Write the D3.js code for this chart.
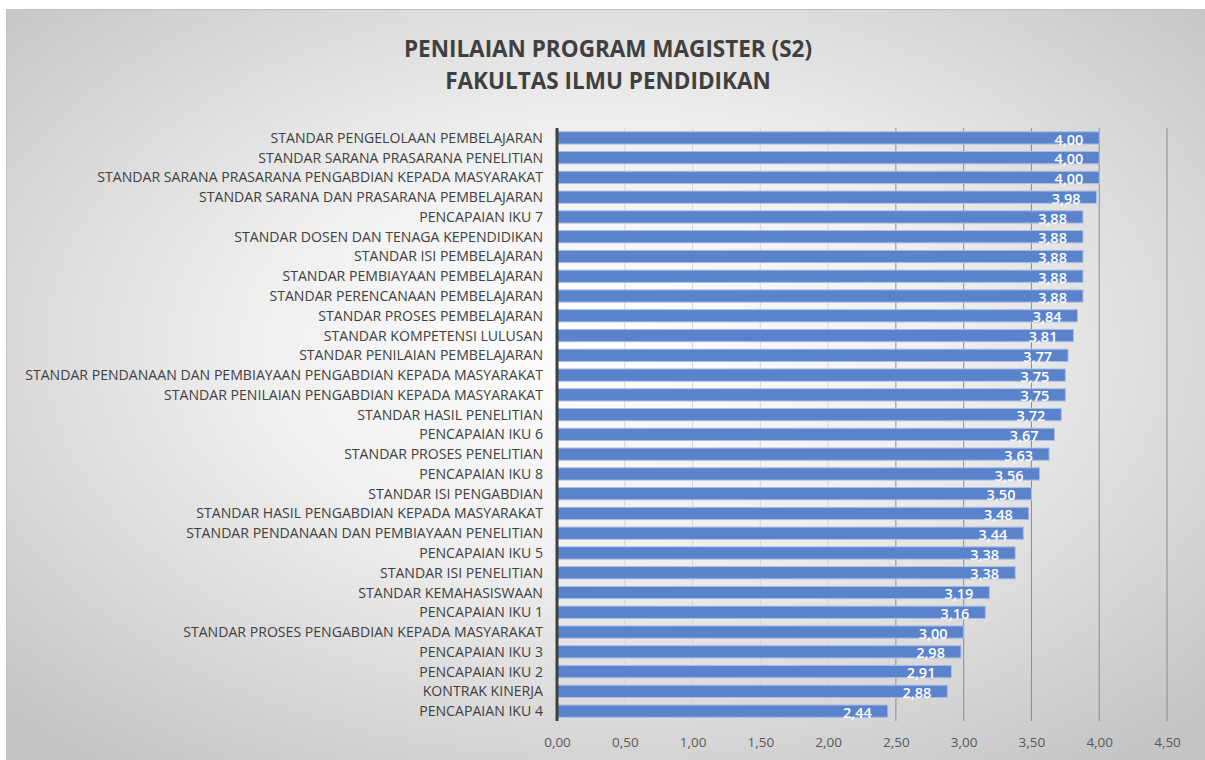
<!DOCTYPE html>
<html>
<head>
<meta charset="utf-8">
<script src="https://cdn.jsdelivr.net/npm/d3@7"></script>
<style>
  body { margin: 0; background: #fff; }
  svg text { font-family: "Open Sans", "Noto Sans", sans-serif; }
</style>
</head>
<body>
<div id="canvas"></div>
<script>
// categories, top to bottom
var categories = [
  "STANDAR PENGELOLAAN PEMBELAJARAN",
  "STANDAR SARANA PRASARANA PENELITIAN",
  "STANDAR SARANA PRASARANA PENGABDIAN KEPADA MASYARAKAT",
  "STANDAR SARANA DAN PRASARANA PEMBELAJARAN",
  "PENCAPAIAN IKU 7",
  "STANDAR DOSEN DAN TENAGA KEPENDIDIKAN",
  "STANDAR ISI PEMBELAJARAN",
  "STANDAR PEMBIAYAAN PEMBELAJARAN",
  "STANDAR PERENCANAAN PEMBELAJARAN ",
  "STANDAR PROSES PEMBELAJARAN ",
  "STANDAR KOMPETENSI LULUSAN",
  "STANDAR PENILAIAN PEMBELAJARAN",
  "STANDAR PENDANAAN DAN PEMBIAYAAN PENGABDIAN KEPADA MASYARAKAT",
  "STANDAR PENILAIAN PENGABDIAN KEPADA MASYARAKAT",
  "STANDAR HASIL PENELITIAN",
  "PENCAPAIAN IKU 6",
  "STANDAR PROSES PENELITIAN",
  "PENCAPAIAN IKU 8",
  "STANDAR ISI PENGABDIAN",
  "STANDAR HASIL PENGABDIAN KEPADA MASYARAKAT",
  "STANDAR PENDANAAN DAN PEMBIAYAAN PENELITIAN",
  "PENCAPAIAN IKU 5",
  "STANDAR ISI PENELITIAN",
  "STANDAR KEMAHASISWAAN",
  "PENCAPAIAN IKU 1",
  "STANDAR PROSES PENGABDIAN KEPADA MASYARAKAT",
  "PENCAPAIAN IKU 3",
  "PENCAPAIAN IKU 2",
  "KONTRAK KINERJA",
  "PENCAPAIAN IKU 4"
];
var values = [4.00, 4.00, 4.00, 3.98, 3.88, 3.88, 3.88, 3.88, 3.88, 3.84,
              3.81, 3.77, 3.75, 3.75, 3.72, 3.67, 3.63, 3.56, 3.50, 3.48,
              3.44, 3.38, 3.38, 3.19, 3.16, 3.00, 2.98, 2.91, 2.88, 2.44];
var tickValues = [0, 0.5, 1, 1.5, 2, 2.5, 3, 3.5, 4, 4.5];
var titleLines = ["PENILAIAN PROGRAM MAGISTER (S2)", "FAKULTAS ILMU PENDIDIKAN"];

var W = 1205, H = 760;
var margin = {top: 128, right: 38, bottom: 39, left: 557};
var width = W - margin.left - margin.right,
    height = H - margin.top - margin.bottom;

var svg = d3.select("#canvas").append("svg")
  .attr("width", W).attr("height", H);

// background with soft radial gradient
var defs = svg.append("defs");
var grad = defs.append("radialGradient").attr("id", "bg")
  .attr("cx", "50%").attr("cy", "45%").attr("r", "70%");
grad.append("stop").attr("offset", "0%").attr("stop-color", "#ffffff");
grad.append("stop").attr("offset", "40%").attr("stop-color", "#f0f0f0");
grad.append("stop").attr("offset", "100%").attr("stop-color", "#c4c4c4");

svg.append("rect").attr("x", 6.5).attr("y", 9.5)
  .attr("width", W - 6).attr("height", H - 9)
  .attr("fill", "url(#bg)").attr("stroke", "#c0c0c0");

// title
svg.append("g").selectAll("text")
  .data(titleLines)
  .enter().append("text")
    .attr("x", 608)
    .attr("y", function(d, i) { return 57 + i * 32; })
    .attr("text-anchor", "middle")
    .style("font-size", "22.5px")
    .style("font-weight", "bold")
    .style("fill", "#404040")
    .text(function(d) { return d; });

var g = svg.append("g")
  .attr("transform", "translate(" + margin.left + "," + margin.top + ")");

var x = d3.scaleLinear().domain([0, 4.5]).range([0, 610]);
var y = d3.scaleBand().domain(categories).range([0, height]).paddingInner(0.38).paddingOuter(0.19);

var fmt = function(v) { return d3.format(".2f")(v).replace(".", ","); };

// grid lines
g.selectAll(".grid")
  .data(tickValues.slice(1))
  .enter().append("line")
    .attr("class", "grid")
    .attr("x1", function(d) { return x(d); })
    .attr("x2", function(d) { return x(d); })
    .attr("y1", 0).attr("y2", height)
    .style("stroke", function(d) { return d >= 2.5 ? "#8c8c8c" : "#d4d4d4"; })
    .style("stroke-width", 1);

// bars
g.selectAll(".bar")
  .data(values)
  .enter().append("rect")
    .attr("class", "bar")
    .attr("x", 0)
    .attr("y", function(d, i) { return y(categories[i]); })
    .attr("width", function(d) { return x(d); })
    .attr("height", y.bandwidth())
    .style("fill", "#5b83cb")
    .style("stroke", "#a9bde3")
    .style("stroke-width", 1);

// value labels
g.selectAll(".val")
  .data(values)
  .enter().append("text")
    .attr("class", "val")
    .attr("x", function(d) { return x(d) - 16; })
    .attr("y", function(d, i) { return y(categories[i]) + y.bandwidth() + 0.5; })
    .attr("text-anchor", "end")
    .style("font-size", "14.5px")
    .style("font-weight", "600")
    .style("fill", "#ffffff")
    .text(fmt);

// y axis line
g.append("line")
  .attr("x1", 0).attr("x2", 0)
  .attr("y1", 0).attr("y2", height)
  .style("stroke", "#404040").style("stroke-width", 3);

// category labels
g.selectAll(".cat")
  .data(categories)
  .enter().append("text")
    .attr("class", "cat")
    .attr("x", -14)
    .attr("y", function(d) { return y(d) + y.bandwidth() / 2 + 5; })
    .attr("text-anchor", "end")
    .style("font-size", "14.1px")
    .style("fill", "#404040")
    .text(function(d) { return d; });

// x axis tick labels
var xAxis = d3.axisBottom(x).tickValues(tickValues).tickFormat(fmt).tickSize(0).tickPadding(16);
var ax = g.append("g").attr("transform", "translate(0," + height + ")").call(xAxis);
ax.select(".domain").remove();
ax.selectAll("text")
  .style("font-family", "\"Open Sans\", sans-serif")
  .style("font-size", "13.5px")
  .style("fill", "#595959");
</script>
</body>
</html>
